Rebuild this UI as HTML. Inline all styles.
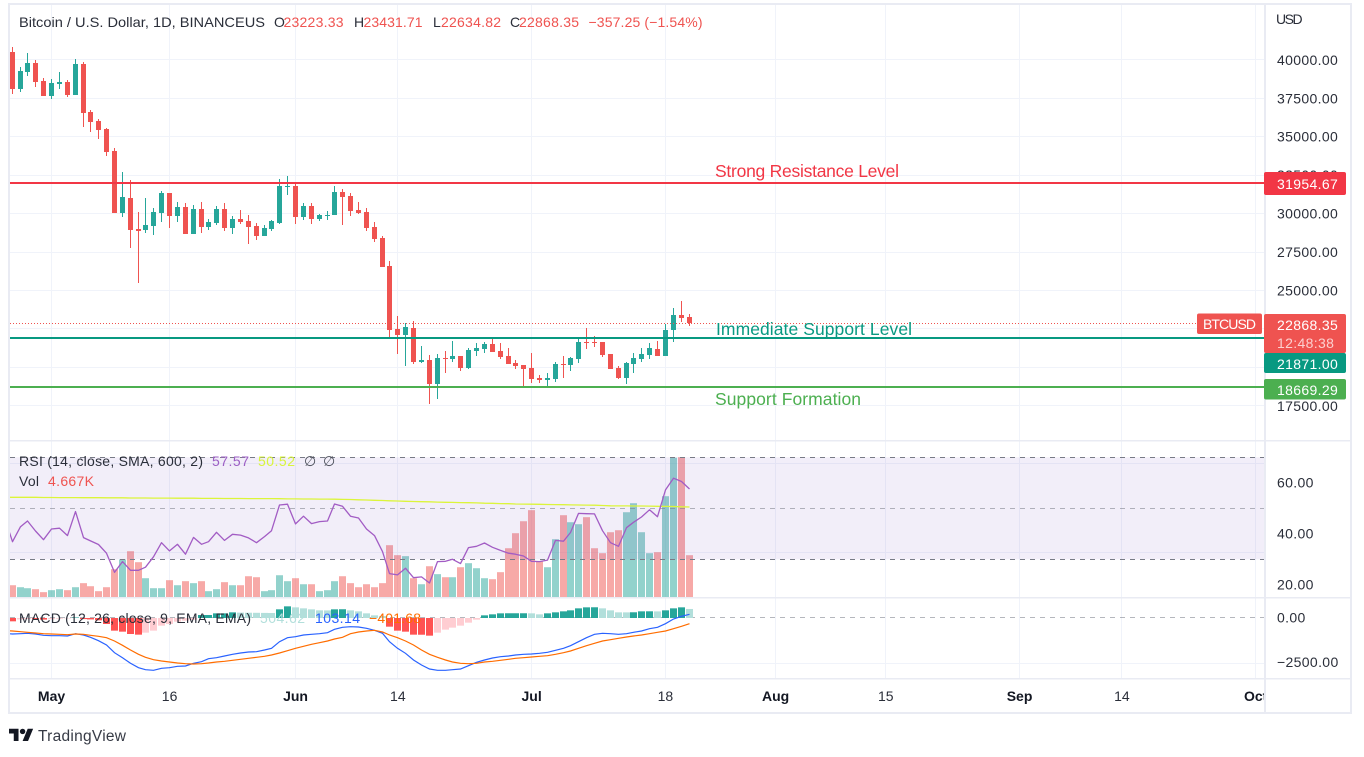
<!DOCTYPE html>
<html lang="en">
<head>
<meta charset="utf-8">
<title>BTCUSD chart</title>
<style>
html,body{margin:0;padding:0;background:#fff;width:1364px;height:757px;overflow:hidden}
svg{display:block}
text{font-family:"Liberation Sans","DejaVu Sans",sans-serif}
.ax{font-size:14px;fill:#2a2e39;letter-spacing:.35px}
.lg{font-size:14px}
</style>
</head>
<body>
<svg id="chart" xmlns="http://www.w3.org/2000/svg" width="1364" height="757" viewBox="0 0 1364 757">
  <defs>
    <clipPath id="plotClip"><rect x="10" y="5" width="1254" height="674"/></clipPath>
    <clipPath id="timeClip"><rect x="10" y="680" width="1254" height="32"/></clipPath>
  </defs>
  <rect width="1364" height="757" fill="#ffffff"/>
  <g id="grid" clip-path="url(#plotClip)"></g>
  <g id="volume" clip-path="url(#plotClip)"></g>
  <g id="rsiPane" clip-path="url(#plotClip)"></g>
  <g id="macdPane" clip-path="url(#plotClip)"></g>
  <g id="candles" clip-path="url(#plotClip)"></g>
  <g id="levels" clip-path="url(#plotClip)"></g>

  <g id="frame" fill="#e9ebf3">
    <rect x="8" y="3" width="1344" height="2"/>
    <rect x="8" y="3" width="2" height="711"/>
    <rect x="1350" y="3" width="2" height="711"/>
    <rect x="8" y="712" width="1344" height="2"/>
    <rect x="1264" y="3" width="2" height="711"/>
    <rect x="8" y="440" width="1344" height="1.5"/>
    <rect x="8" y="597" width="1344" height="1.5"/>
    <rect x="8" y="678" width="1344" height="1.5"/>
  </g>

  <g id="priceAxis"></g>
  <g id="timeAxis" clip-path="url(#timeClip)"></g>
  <text class="ax" x="1276" y="24" textLength="27">USD</text>

  <g class="lg" fill="#2a2e39">
    <text x="19" y="27" textLength="246" lengthAdjust="spacingAndGlyphs">Bitcoin / U.S. Dollar, 1D, BINANCEUS</text>
    <text x="274" y="27">O</text>
    <text x="283.5" y="27" fill="#ef5350" textLength="60">23223.33</text>
    <text x="354" y="27">H</text>
    <text x="363.5" y="27" fill="#ef5350" textLength="59">23431.71</text>
    <text x="433" y="27">L</text>
    <text x="441" y="27" fill="#ef5350" textLength="60">22634.82</text>
    <text x="510" y="27">C</text>
    <text x="519" y="27" fill="#ef5350" textLength="60">22868.35</text>
    <text x="588.5" y="27" fill="#ef5350" textLength="114">−357.25 (−1.54%)</text>
  </g>

  <g class="lg" fill="#2a2e39">
    <text x="19" y="466" textLength="184">RSI (14, close, SMA, 600, 2)</text>
    <text x="212" y="466" fill="#9c5fc4" textLength="37">57.57</text>
    <text x="258" y="466" fill="#d9f53c" textLength="37">50.52</text>
    <text x="304" y="466" fill="#4a4e59">∅</text>
    <text x="323" y="466" fill="#4a4e59">∅</text>
    <text x="19" y="486" textLength="20">Vol</text>
    <text x="48" y="486" fill="#ef5350" textLength="46">4.667K</text>
  </g>
  <g class="lg" fill="#2a2e39">
    <text x="19" y="623" textLength="232">MACD (12, 26, close, 9, EMA, EMA)</text>
    <text x="260" y="623" fill="#b2dfdb" textLength="45">504.62</text>
    <text x="315" y="623" fill="#2962ff" textLength="45">103.14</text>
    <text x="369" y="623" fill="#ff6d00" textLength="52">−401.68</text>
  </g>

  <g style="font-size:17.5px">
    <text x="715" y="177" fill="#f23645" textLength="184">Strong Resistance Level</text>
    <text x="716" y="335" fill="#089981" textLength="196">Immediate Support Level</text>
    <text x="715" y="405" fill="#4caf50" textLength="146">Support Formation</text>
  </g>

  <g>
    <rect x="1264" y="172" width="82" height="23" rx="2" fill="#f23645"/>
    <text x="1277" y="189" fill="#fff" style="font-size:14px;letter-spacing:.35px">31954.67</text>
    <rect x="1264" y="314" width="82" height="39" rx="2" fill="#ef5350"/>
    <text x="1277" y="330" fill="#fff" style="font-size:14px;letter-spacing:.35px">22868.35</text>
    <text x="1277" y="348" fill="#fcd0cf" style="font-size:14px;letter-spacing:.35px">12:48:38</text>
    <rect x="1264" y="353" width="82" height="20" rx="2" fill="#089981"/>
    <text x="1277" y="369" fill="#fff" style="font-size:14px;letter-spacing:.35px">21871.00</text>
    <rect x="1264" y="379" width="82" height="20.5" rx="2" fill="#4caf50"/>
    <text x="1277" y="395" fill="#fff" style="font-size:14px;letter-spacing:.35px">18669.29</text>
    <rect x="1197" y="313.5" width="65" height="20.5" rx="2" fill="#ef5350"/>
    <text x="1203" y="329" fill="#fff" style="font-size:14px" textLength="53">BTCUSD</text>
  </g>

  <g>
    <g transform="translate(9 726) scale(.68)" fill="#131722">
      <path d="M14 22H7V11H0V4h14v18zM28 22h-8l7.5-18h8L28 22z"/>
      <circle cx="20" cy="8" r="4"/>
    </g>
    <text x="38" y="741" fill="#363a45" style="font-size:15.5px" textLength="88">TradingView</text>
  </g>
</svg>

<script>
// ---------- Chart data ----------
const opens = [40475,38090,39175,39760,38590,37615,38395,38525,37680,39695,
36574,35989,35468,34038,30007,30982,28966,28901,29162,30007,
31307,29812,30397,28641,30267,29097,29357,30267,29031,29617,
29487,29162,28511,28966,29357,31697,31762,29747,30462,29617,
29812,29877,31372,31112,30202,30072,29097,28381,26561,22465,
22075,22530,20320,20450,18890,20580,20515,20710,19930,21035,
21165,21490,21035,20710,20255,20125,19930,19280,19150,19215,
20190,20125,20515,21620,21620,21620,20840,19930,19280,20190,
20515,20775,21165,20710,22400,23375,23223];
const highs = [40800,39480,40410,39955,38785,38720,39175,38655,40020,39825,
36704,36119,35533,34233,32673,32152,30072,30982,30332,31437,
31307,30722,30657,30527,30722,29617,30462,30657,29812,30202,
29877,29357,29227,29552,32217,32413,31892,30657,30657,29942,
30137,31762,31567,31307,30722,30332,29422,28511,26886,23310,
22855,22985,21360,20775,20840,21035,21685,20710,21230,21555,
21620,21880,21555,21230,20450,20125,20905,19475,19605,20320,
20710,20645,21880,22530,22010,21620,20840,20060,20320,20905,
21230,21555,21685,22790,23830,24285,23432];
const lows = [37745,37895,38915,38200,37615,37420,38070,37550,37680,35598,
35273,34818,33713,30007,29747,27731,25455,28706,28576,29422,
29031,29422,28641,28641,28706,28901,29227,28836,28641,29292,
27991,28251,28511,28836,29292,31177,29292,29552,29292,29487,
29552,29877,29227,29812,29942,28836,28121,26496,21880,20840,
20060,20190,20255,17590,17915,19605,20320,19735,19865,20710,
20905,20970,20515,20190,19865,18695,18955,18955,18695,19020,
19280,19735,20255,21165,21295,20645,19865,19215,18890,19605,
20320,20515,20710,20710,21620,22920,22635];
const closes = [38090,39240,39760,38525,37615,38460,38525,37680,39695,36509,
35924,35403,33973,30007,31047,28901,28836,29227,30072,31307,
29812,30397,28641,30267,29097,29422,30267,29031,29617,29422,
29097,28511,29031,29487,31762,31762,29747,30462,29617,29877,
29877,31372,31047,30137,30007,29031,28316,26496,22400,22075,
22595,20320,20450,18890,20580,20515,20710,19930,21100,21230,
21490,20970,20645,20190,20060,19865,19215,19150,19280,20190,
20125,20580,21620,21555,21555,20775,19865,19280,20255,20580,
20840,21230,20710,22400,23375,23180,22868];
const volumes = [1.33,1.11,1.0,.89,.56,.78,.89,.78,1.11,1.56,
1.22,.67,1.11,3.11,4.19,5.11,3.89,2.11,1.0,1.0,
1.89,1.33,1.78,1.56,1.78,.67,.89,1.67,1.33,1.33,
2.33,2.22,.67,.78,2.44,1.78,2.11,1.44,1.44,.67,
.78,1.78,2.33,1.56,1.11,1.44,1.11,1.56,5.78,4.67,
4.56,2.11,1.44,3.44,2.56,2.22,2.22,3.33,3.78,3.22,
2.11,2.0,2.78,5.44,7.11,8.44,9.67,4.0,3.33,6.44,
9.11,8.33,8.11,8.89,5.44,4.89,7.22,7.44,9.44,10.44,
7.22,4.89,5.0,11.22,15.5,15.56,4.667];
const rsiBefore = 46.7;
const rsiValues = [36.9,42.8,45.0,41.1,37.7,41.9,42.2,39.3,48.7,38.5,
37.2,35.8,32.4,24.9,29.1,25.7,25.7,26.9,31.0,36.5,
33.3,35.9,32.0,38.6,35.9,36.9,40.6,37.4,39.8,39.5,
38.4,36.5,38.9,41.2,51.3,51.6,43.9,46.9,44.0,44.8,
45.0,51.7,50.8,46.9,46.2,41.9,39.3,33.0,24.4,23.9,
26.5,22.8,23.1,20.7,29.1,29.2,30.0,28.3,34.6,35.1,
36.4,34.7,33.5,32.4,32.0,31.3,29.2,29.1,29.7,37.4,
37.1,40.5,48.0,47.9,47.8,41.2,36.5,35.1,42.4,44.5,
46.6,49.4,46.7,57.2,61.8,60.5,57.57];
const rsiSmaBefore = 54.3;
const rsiSmaValues = [54.3,54.3,54.3,54.3,54.25,54.25,54.2,54.2,54.2,54.15,
54.15,54.15,54.1,54.1,54.1,54.05,54.05,54.05,54.0,54.0,
54.0,53.95,53.95,53.95,53.9,53.9,53.9,53.85,53.85,53.85,
53.8,53.8,53.8,53.8,53.75,53.7,53.7,53.65,53.65,53.6,
53.6,53.55,53.5,53.45,53.35,53.25,53.15,53.05,52.95,52.85,
52.75,52.65,52.6,52.55,52.45,52.35,52.3,52.25,52.2,52.1,
52.0,51.95,51.85,51.8,51.7,51.65,51.6,51.55,51.5,51.45,
51.4,51.35,51.3,51.25,51.2,51.1,51.0,50.95,50.95,50.9,
50.9,50.85,50.8,50.75,50.7,50.6,50.52];
const macdBefore = -857;
const macdValues = [-895,-876,-857,-895,-969,-988,-988,-1007,-876,-951,
-1081,-1268,-1510,-1939,-2218,-2535,-2777,-2889,-2926,-2815,
-2777,-2703,-2684,-2535,-2442,-2274,-2218,-2125,-2032,-1957,
-1901,-1883,-1789,-1696,-1323,-1100,-1044,-951,-913,-876,
-820,-634,-522,-485,-503,-578,-690,-857,-1323,-1696,
-1976,-2349,-2628,-2852,-2926,-2926,-2889,-2852,-2666,-2479,
-2349,-2237,-2162,-2125,-2069,-2032,-2013,-1976,-1920,-1808,
-1696,-1547,-1323,-1100,-913,-857,-876,-913,-876,-802,
-727,-596,-522,-317,-56,93,205];
const signalBefore = -708;
const signalValues = [-727,-764,-802,-839,-876,-895,-913,-932,-895,-913,
-969,-1025,-1100,-1286,-1528,-1789,-2032,-2200,-2330,-2405,
-2460,-2516,-2554,-2572,-2554,-2516,-2460,-2423,-2367,-2311,
-2255,-2200,-2144,-2069,-1957,-1827,-1696,-1584,-1473,-1379,
-1286,-1174,-1081,-876,-783,-727,-690,-783,-951,-1100,
-1286,-1510,-1789,-2032,-2200,-2349,-2460,-2535,-2554,-2535,
-2460,-2423,-2367,-2311,-2255,-2218,-2181,-2144,-2106,-2032,
-1939,-1845,-1696,-1547,-1417,-1286,-1212,-1137,-1062,-1007,
-951,-876,-802,-727,-596,-466,-317];
const histBefore = 0;
const histValues = [-186,-80,-60,-70,-90,-70,-40,-20,30,-60,
-80,-130,-335,-708,-764,-895,-932,-820,-708,-429,
-335,-205,-149,-93,168,168,261,261,317,300,
295,290,285,280,485,652,596,540,485,429,
425,485,490,429,373,261,149,112,-485,-708,
-764,-932,-936,-988,-820,-652,-540,-429,-261,-93,
149,205,261,265,265,265,261,205,261,317,
373,429,540,596,600,540,429,317,315,320,
373,375,370,429,540,596,505];
const priceTicks = [40000,37500,35000,32500,30000,27500,25000,22500,20000,17500];
const rsiTicks = [60,40,20];
const rsiLevels = [70,50,30];
const macdTicks = [0,-2500];
const extraGridRows = [463.3,552.3];
const timeLabels = ['May','16','Jun','14','Jul','18','Aug','15','Sep','14','Oct'];
const timeBarIndex = [5,20,36,49,66,83,97,111,128,141,158];
const timeMajor = [true,false,true,false,true,false,true,false,true,false,true];
const resistanceLevel = 31954.67;
const supportLevel = 21871.00;
const formationLevel = 18669.29;
const lastPrice = 22868.35;

// ---------- Axis functions ----------
const xAt = i => 12.2 + i * 7.87;
const xSnap = i => Math.floor(xAt(i));
const yPrice = p => 59.3 + (40000 - p) * 0.01538;
const yVolume = v => 597.2 - v * 9;
const yRsi = v => 508.3 + (50 - v) * 2.55;
const yMacd = v => 618 - v * 0.01788;

const NS = 'http://www.w3.org/2000/svg';
function mk(tag, parent, attrs) {
  const el = document.createElementNS(NS, tag);
  for (const k in attrs) el.setAttribute(k, attrs[k]);
  parent.appendChild(el);
  return el;
}
const $ = id => document.getElementById(id);
const upColor = '#26a69a', downColor = '#ef5350';

// ---------- Grid ----------
priceTicks.forEach(p => {
  const y = Math.round(yPrice(p));
  const line = mk('rect', $('grid'), {x: 10, y: y, width: 1254, height: 1, fill: '#f0f3fa'});
  
  
});
extraGridRows.forEach(y => {
  const line = mk('rect', $('grid'), {x: 10, y: Math.round(y), width: 1254, height: 1, fill: '#f0f3fa'});
  
  
});
macdTicks.slice(1).forEach(v => {
  const line = mk('rect', $('grid'), {x: 10, y: Math.round(yMacd(v)), width: 1254, height: 1, fill: '#f0f3fa'});
  
  
});
timeBarIndex.forEach(i => {
  const line = mk('rect', $('grid'), {x: xSnap(i), y: 5, width: 1, height: 673, fill: '#f0f3fa'});
  
  
});

// ---------- Volume ----------
volumes.forEach((v, i) => {
  const top = yVolume(v);
  const bar = mk('rect', $('volume'), {
    x: xSnap(i) - 3, y: top, width: 7, height: 597.2 - top,
    fill: closes[i] >= opens[i] ? 'rgba(38,166,154,.5)' : 'rgba(239,83,80,.5)'
  });
  
  
});

// ---------- RSI ----------
const band = mk('rect', $('rsiPane'), {
  x: 10, y: yRsi(rsiLevels[0]), width: 1254, height: yRsi(rsiLevels[2]) - yRsi(rsiLevels[0]),
  fill: 'rgba(126,87,194,.1)'
});


rsiLevels.forEach(v => {
  const y = Math.round(yRsi(v)) + .5;
  const l = mk('line', $('rsiPane'), {
    x1: 10, x2: 1264, y1: y, y2: y, stroke: '#787b86', 'stroke-width': 1,
    'stroke-dasharray': '5 5', 'stroke-opacity': v === 50 ? .55 : 1
  });
  
  
});
const smaPts = [xAt(-1) + ',' + yRsi(rsiSmaBefore)].concat(rsiSmaValues.map((v, i) => (xSnap(i) + .5) + ',' + yRsi(v).toFixed(1))).join(' ');
const smaLine = mk('polyline', $('rsiPane'), {points: smaPts, fill: 'none', stroke: '#dcf53a', 'stroke-width': 1.3});


const rsiPts = [(xAt(-1)) + ',' + yRsi(rsiBefore)].concat(rsiValues.map((v, i) => (xSnap(i) + .5) + ',' + yRsi(v).toFixed(1))).join(' ');
const rsiLine = mk('polyline', $('rsiPane'), {points: rsiPts, fill: 'none', stroke: '#a25cc4', 'stroke-width': 1.3, 'stroke-linejoin': 'round'});



// ---------- MACD ----------
const zeroY = Math.round(yMacd(0)) - .5;
const zeroLine = mk('line', $('macdPane'), {x1: 10, x2: 1264, y1: zeroY, y2: zeroY, stroke: '#787b86', 'stroke-width': 1, 'stroke-dasharray': '5 5', 'stroke-opacity': .55});


histValues.forEach((v, i) => {
  const prev = i ? histValues[i - 1] : histBefore;
  const fill = v >= 0 ? (v >= prev ? '#26a69a' : '#b2dfdb') : (v < prev ? '#ff5252' : '#ffcdd2');
  const y0 = yMacd(0), y1 = yMacd(v);
  const bar = mk('rect', $('macdPane'), {x: xSnap(i) - 3, y: Math.min(y0, y1), width: 7, height: Math.abs(y1 - y0), fill: fill});
  
  
});
const macdPts = [xAt(-1) + ',' + yMacd(macdBefore)].concat(macdValues.map((v, i) => (xSnap(i) + .5) + ',' + yMacd(v).toFixed(1))).join(' ');
const macdLine = mk('polyline', $('macdPane'), {points: macdPts, fill: 'none', stroke: '#2962ff', 'stroke-width': 1.2});


const sigPts = [xAt(-1) + ',' + yMacd(signalBefore)].concat(signalValues.map((v, i) => (xSnap(i) + .5) + ',' + yMacd(v).toFixed(1))).join(' ');
const sigLine = mk('polyline', $('macdPane'), {points: sigPts, fill: 'none', stroke: '#ff6d00', 'stroke-width': 1.2});



// ---------- Candles ----------
opens.forEach((o, i) => {
  const c = closes[i], up = c >= o, col = up ? upColor : downColor;
  const xw = xSnap(i);
  const yh = Math.round(yPrice(highs[i])), yl = Math.round(yPrice(lows[i]));
  const yt = Math.round(yPrice(Math.max(o, c))), yb = Math.round(yPrice(Math.min(o, c)));
  const wick = mk('rect', $('candles'), {x: xw, y: yh, width: 1, height: Math.max(1, yl - yh), fill: col});
  
  
  const body = mk('rect', $('candles'), {x: xw - 2, y: yt, width: 5, height: Math.max(1, yb - yt), fill: col});
  
  
});

// ---------- Level lines ----------
const lastY = Math.round(yPrice(lastPrice)) + .5;
const lastLine = mk('line', $('levels'), {x1: 10, x2: 1197, y1: lastY, y2: lastY, stroke: '#ef5350', 'stroke-width': 1, 'stroke-dasharray': '1 2'});


const resLine = mk('rect', $('levels'), {x: 10, y: Math.round(yPrice(resistanceLevel)) - 1, width: 1254, height: 2, fill: '#f23645'});


const supLine = mk('rect', $('levels'), {x: 10, y: Math.round(yPrice(supportLevel)) - 1, width: 1254, height: 2, fill: '#089981'});


const forLine = mk('rect', $('levels'), {x: 10, y: Math.round(yPrice(formationLevel)) - 1, width: 1254, height: 2, fill: '#4caf50'});



// ---------- Axis labels ----------
priceTicks.forEach(p => {
  const t = mk('text', $('priceAxis'), {x: 1277, y: yPrice(p) + 5.5, class: 'ax'});
  t.textContent = p.toFixed(2);
  
  
});
rsiTicks.forEach(v => {
  const t = mk('text', $('priceAxis'), {x: 1277, y: yRsi(v) + 4.5, class: 'ax'});
  t.textContent = v.toFixed(2);
  
  
});
macdTicks.forEach(v => {
  const t = mk('text', $('priceAxis'), {x: 1277, y: yMacd(v) + 4.5, class: 'ax'});
  t.textContent = v.toFixed(2).replace('-', '−');
  
  
});
timeLabels.forEach((s, k) => {
  const t = mk('text', $('timeAxis'), {x: xAt(timeBarIndex[k]), y: 701, 'text-anchor': 'middle'});
  t.textContent = s;
  t.setAttribute('font-size', '14');
  t.setAttribute('font-weight', timeMajor[k] ? '700' : '400');
  t.setAttribute('fill', timeMajor[k] ? '#131722' : '#2a2e39');
  
  
});
</script>
</body>
</html>
